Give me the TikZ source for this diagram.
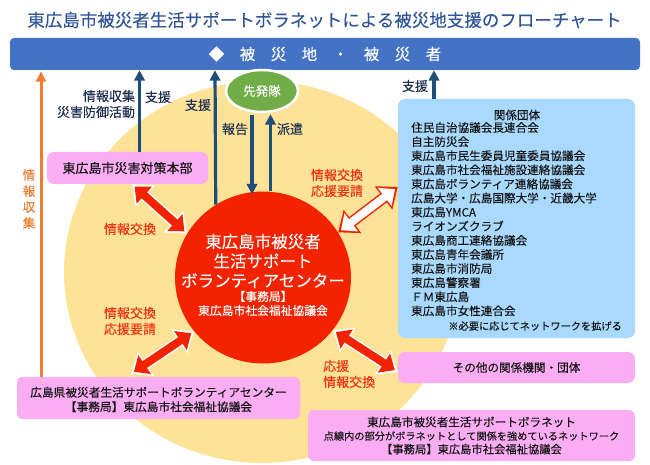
\documentclass[tikz,border=0pt]{standalone}
\usepackage{fontspec}
\setmainfont[FakeBold=0.12]{Noto Sans CJK JP}
\usetikzlibrary{arrows.meta,shapes.geometric}
\definecolor{titleblue}{HTML}{2F5597}
\definecolor{bandblue}{HTML}{4472C4}
\definecolor{navy}{HTML}{1F4E79}
\definecolor{labeltext}{HTML}{1F3050}
\definecolor{boxtext}{HTML}{151515}
\definecolor{orangeline}{HTML}{ED7D31}
\definecolor{redtext}{HTML}{EE3311}
\definecolor{hotred}{HTML}{F32300}
\definecolor{sun}{HTML}{FDE298}
\definecolor{pinkbox}{HTML}{FAADF2}
\definecolor{skybox}{HTML}{A9DAFE}
\definecolor{leaf}{HTML}{70AD47}
\newcommand{\jfs}[2]{\fontsize{#1}{#2}\selectfont}
\tikzset{
  x=1pt,y=-1pt,
  boxbase/.style={inner sep=0pt,rounded corners=7pt,align=center,text=boxtext},
  pinkstyle/.style={boxbase,fill=pinkbox},
  tag/.style={inner sep=0pt,align=center,text=labeltext,font=\jfs{13}{16}},
  redtag/.style={inner sep=0pt,align=center,text=redtext,font=\jfs{13}{16}},
  support/.style={draw=navy,line width=3.2pt,-{Triangle[length=10.5pt,width=10.5pt]}},
  blockouter/.style={line width=11pt,color=#1,{Triangle[length=18pt,width=28pt]}-{Triangle[length=18pt,width=28pt]}},
  blockinner/.style={line width=8pt,color=#1,shorten >=3.5pt,shorten <=3.5pt,{Triangle[length=13pt,width=22pt]}-{Triangle[length=13pt,width=22pt]}},
}
\begin{document}
\begin{tikzpicture}
\useasboundingbox (0,0) rectangle (650,465);
% backdrop
\node[ellipse,fill=sun,minimum width=396pt,minimum height=382pt,inner sep=0pt] (network) at (262,272) {};
% title and band
\node[inner sep=0pt,text=titleblue,font=\jfs{17.5}{20}] (title) at (324.5,20) {東広島市被災者生活サポートボラネットによる被災地支援のフローチャート};
\node[fill=bandblue,rounded corners=4pt,minimum width=630pt,minimum height=32pt,inner sep=0pt,text=white,font=\jfs{15.5}{18}] (band) at (325,54) {◆　被　災　地　・　被　災　者};
% main centre
\node[ellipse,fill=hotred,minimum width=176pt,minimum height=172pt,inner sep=0pt] (center) at (263,277.5) {};
\node[inner sep=0pt,text=white,align=center,font=\jfs{16.5}{19.5}] (centertitle) at (263,261) {東広島市被災者\\生活サポート\\ボランティアセンター};
\node[inner sep=0pt,text=white,align=center,font=\jfs{11.8}{14}] (centersub) at (263,303.5) {【事務局】\\東広島市社会福祉協議会};
% advance team
\node[ellipse,fill=leaf,draw=white,line width=2.5pt,minimum width=72pt,minimum height=42pt,inner sep=0pt,text=white,font=\jfs{12.5}{15}] (sentai) at (262,91) {先発隊};
% boxes
\node[pinkstyle,minimum width=161pt,minimum height=32pt,font=\jfs{13}{16}] (hq) at (127.5,168) {東広島市災害対策本部};
\node[boxbase,fill=skybox,minimum width=237pt,minimum height=239pt] (kankei) at (516.5,218.5) {};
\node[inner sep=0pt,text=boxtext,font=\jfs{11.6}{14.1}] (kankeihead) at (517,115) {関係団体};
\node[inner sep=0pt,text=boxtext,align=left,anchor=north west,font=\jfs{11.6}{14.1}] (kankeilist) at (411,122) {住民自治協議会長連合会\\自主防災会\\東広島市民生委員児童委員協議会\\東広島市社会福祉施設連絡協議会\\東広島ボランティア連絡協議会\\広島大学・広島国際大学・近畿大学\\東広島YMCA\\ライオンズクラブ\\東広島商工連絡協議会\\東広島青年会議所\\東広島市消防局\\東広島警察署\\ＦＭ東広島\\東広島市女性連合会};
\node[inner sep=0pt,text=boxtext,anchor=east,font=\jfs{10.2}{12}] (kankeinote) at (622,326) {※必要に応じてネットワークを拡げる};
\node[pinkstyle,minimum width=237pt,minimum height=31pt,font=\jfs{11.6}{14}] (other) at (516.5,367.5) {その他の関係機関・団体};
\node[pinkstyle,rounded corners=5pt,minimum width=283pt,minimum height=42pt] (pref) at (158.5,398) {};
\node[inner sep=0pt,align=center,text=boxtext,font=\jfs{11.7}{14.5}] (prefcaption) at (158.5,399.5) {広島県被災者生活サポートボランティアセンター\\【事務局】東広島市社会福祉協議会};
\node[pinkstyle,rounded corners=6pt,minimum width=327pt,minimum height=51pt,font=\jfs{11.6}{13.5}] (bora) at (471.5,435.5) {{\jfs{11.6}{13.5}東広島市被災者生活サポートボラネット}\\{\jfs{10.2}{13.5}点線内の部分がボラネットとして関係を強めているネットワーク}\\{\jfs{11.3}{13.5}【事務局】東広島市社会福祉協議会}};
% support arrows
\draw[support] ([xshift=12pt]hq.north) -- ([xshift=-185.5pt]band.south);
\draw[support] (center.123.7) -- ([xshift=-110pt]band.south);
\draw[support] ([xshift=-10pt,yshift=-2pt]sentai.south) -- ([xshift=-11pt,yshift=-3pt]center.north);
\draw[support] ([xshift=7.5pt]center.north) -- ([xshift=8.5pt,yshift=-1pt]sentai.south);
\draw[support] ([xshift=-82.5pt]kankei.north) -- ([xshift=109pt]band.south);
% orange arrow
\draw[draw=orangeline,line width=3pt,-{Triangle[length=10.5pt,width=10pt]}] ([xshift=-117.5pt]pref.north) -- ([xshift=-284pt,yshift=-1pt]band.south);
% block arrows
\draw[blockouter=white] ([xshift=4.5pt]hq.south) -- (center.150);
\draw[blockinner=hotred] ([xshift=4.5pt]hq.south) -- (center.150);
\draw[blockouter=hotred] ([yshift=31.5pt]kankei.west) -- (center.31);
\draw[blockinner=white] ([yshift=31.5pt]kankei.west) -- (center.31);
\draw[blockouter=white] ([xshift=-27.5pt,yshift=3pt]pref.north) -- (center.218);
\draw[blockinner=hotred] ([xshift=-27.5pt,yshift=3pt]pref.north) -- (center.218);
\draw[blockouter=white] ([yshift=-4.5pt]other.west) -- (center.-37);
\draw[blockinner=hotred] ([yshift=-4.5pt]other.west) -- (center.-37);
% labels
\node[tag] (lblcollect) at (95,104) {\makebox[80pt][r]{情報収集}\\\makebox[80pt][r]{災害防御活動}};
\node[tag] (lblsupa) at (158,97) {支援};
\node[tag] (lblsupb) at (198,105) {支援};
\node[tag] (lblreport) at (235,129) {報告};
\node[tag] (lbldispatch) at (290,129) {派遣};
\node[tag] (lblsupc) at (415,86) {支援};
\node[inner sep=0pt,align=center,text=orangeline,font=\jfs{12.5}{16}] (lblvert) at (29,199) {情\\報\\収\\集};
\node[redtag] (lblxa) at (130,229) {情報交換};
\node[redtag] (lblxb) at (337,183) {情報交換\\応援要請};
\node[redtag] (lblxc) at (130,321) {情報交換\\応援要請};
\node[redtag,align=left,anchor=west] (lblxd) at (323,374) {応援\\情報交換};
\end{tikzpicture}
\end{document}
